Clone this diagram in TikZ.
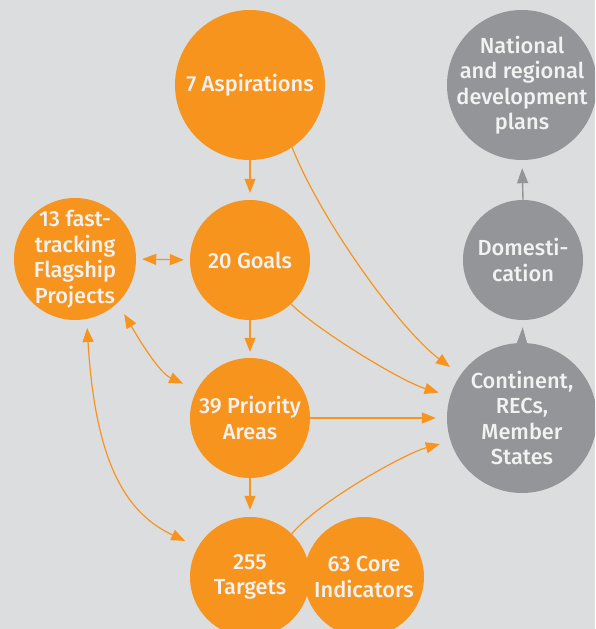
\documentclass[tikz,border=0pt]{standalone}
\usepackage{fontspec}
\setmainfont{Fira Sans}[UprightFont=* Medium]
\usetikzlibrary{arrows.meta}
\definecolor{bg}{HTML}{DCDDDF}
\definecolor{orng}{HTML}{F7941E}
\definecolor{gry}{HTML}{939598}
\definecolor{txt}{HTML}{F2F2F2}
\tikzset{
  bubble/.style={circle, fill=orng, text=txt, inner sep=-25pt, align=center,
    font=\fontsize{21.8}{25.5}\selectfont},
  gbubble/.style={bubble, fill=gry},
  oarrow/.style={draw=orng, line width=1.2pt, -{Triangle[length=14pt,width=11pt]}},
  odarrow/.style={draw=orng, line width=1.2pt, {Triangle[length=14pt,width=11pt]}-{Triangle[length=14pt,width=11pt]}},
  garrow/.style={draw=gry, line width=1.4pt, -{Triangle[length=15pt,width=11pt]}},
}
\begin{document}
\begin{tikzpicture}[x=1pt,y=-1pt]
\fill[bg] (0,0) rectangle (595,629);
\useasboundingbox (0,0) rectangle (595,629);
\begin{scope}
\clip (0,0) rectangle (595,629);
\node[bubble, minimum size=150pt] (asp) at (250,85) {7 Aspirations};
\node[bubble, minimum size=120pt] (goals) at (250,260) {20 Goals};
\node[bubble, minimum size=122pt] (flag) at (75,259) {13 fast-\\tracking\\Flagship\\Projects};
\node[bubble, minimum size=120pt] (prio) at (250,418) {39 Priority\\Areas};
\node[bubble, minimum size=120pt] (targ) at (250,577) {255\\Targets};
\node[bubble, minimum size=120pt] (core) at (364,577) {63 Core\\Indicators};
\node[gbubble, minimum size=150pt] (nat) at (522,85) {National\\and regional\\development\\plans};
\node[gbubble, minimum size=120pt] (dom) at (523,260) {Domesti-\\cation};
\node[gbubble, minimum size=150pt] (cont) at (522,418) {Continent,\\RECs,\\Member\\States};
\end{scope}
% vertical orange arrows
\draw[oarrow, shorten >=7pt] (asp.south) -- (goals.north);
\draw[oarrow, shorten >=6pt] (goals.south) -- (prio.north);
\draw[oarrow, shorten >=7pt] (prio.south) -- (targ.north);
% flagship links
\draw[odarrow, shorten <=6pt, shorten >=6pt] (flag.east) -- (goals.west);
\draw[odarrow, shorten <=13pt, shorten >=15pt] (flag.-46.6) .. controls +(12,20) and +(-40,-18) .. (prio.152);
\draw[odarrow, shorten <=9pt, shorten >=14pt] (flag.-79.3) .. controls +(9,151) and +(-68,-32) .. (targ.150);
% to continent
\draw[oarrow, shorten >=13pt] (asp.-56.5) .. controls +(30,75) and +(-60,-45) .. (cont.145.6);
\draw[oarrow, shorten >=12pt] (goals.-47) .. controls +(25,25) and +(-50,-15) .. (cont.163.2);
\draw[oarrow, shorten >=11pt] (prio.east) -- (cont.west);
\draw[oarrow, shorten >=11pt] (targ.46.3) .. controls +(28,-33) and +(-45,12) .. (cont.198.2);
% gray arrows
\draw[garrow, shorten >=8pt] (dom.north) -- (nat.south);
\draw[garrow, shorten >=7pt, -{Triangle[length=16pt,width=10pt]}] (cont.north) -- (dom.south);
\end{tikzpicture}
\end{document}
